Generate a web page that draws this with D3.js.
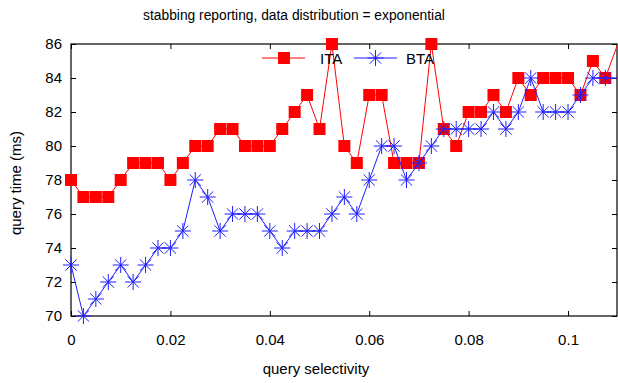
<!DOCTYPE html>
<html><head><meta charset="utf-8">
<script src="https://cdn.jsdelivr.net/npm/d3@7/dist/d3.min.js"></script>
<style>
body{margin:0;background:#fff;}
text{font-family:"Liberation Sans",Arial,sans-serif;fill:#000;}
</style></head>
<body><svg id="c" width="618" height="383"></svg>
<script>
const title = "stabbing reporting, data distribution = exponential";
const xLabel = "query selectivity";
const yLabel = "query time (ms)";
const seriesNames = ["ITA", "BTA"];
const selectivity = [0,0.0025,0.005,0.0075,0.01,0.0125,0.015,0.0175,0.02,0.0225,0.025,0.0275,0.03,0.0325,0.035,0.0375,0.04,0.0425,0.045,0.0475,0.05,0.0525,0.055,0.0575,0.06,0.0625,0.065,0.0675,0.07,0.0725,0.075,0.0775,0.08,0.0825,0.085,0.0875,0.09,0.0925,0.095,0.0975,0.1,0.1025,0.105,0.1075,0.11];
const ita = [78,77,77,77,78,79,79,79,78,79,80,80,81,81,80,80,80,81,82,83,81,86,80,79,83,83,79,79,79,86,81,80,82,82,83,82,84,83,84,84,84,83,85,84,86];
const bta = [73,70,71,72,73,72,73,74,74,75,78,77,75,76,76,76,75,74,75,75,75,76,77,76,78,80,80,78,79,80,81,81,81,81,82,81,82,84,82,82,82,83,84,84,84];
const xTicks = [0,0.02,0.04,0.06,0.08,0.1];
const xTickLabels = ["0","0.02","0.04","0.06","0.08","0.1"];
const yTicks = [70,72,74,76,78,80,82,84,86];

const svg = d3.select("#c");
const L=71, R=617, T=44, B=316;
const x = d3.scaleLinear().domain([0,0.10985]).range([L,R]);
const y = d3.scaleLinear().domain([70,86]).range([B,T]);

svg.append("defs").append("clipPath").attr("id","clip")
  .append("rect").attr("x",L).attr("y",T).attr("width",R-L).attr("height",B-T);

const fs = "15px";
const gx = svg.append("g").attr("transform",`translate(0,${B})`)
  .call(d3.axisBottom(x).tickValues(xTicks).tickFormat((d,i)=>xTickLabels[i]).tickSizeInner(-5).tickSizeOuter(0).tickPadding(18));
const gxt = svg.append("g").attr("transform",`translate(0,${T})`)
  .call(d3.axisTop(x).tickValues(xTicks).tickFormat("").tickSizeInner(-5).tickSizeOuter(0));
const gy = svg.append("g").attr("transform",`translate(${L},0)`)
  .call(d3.axisLeft(y).tickValues(yTicks).tickFormat(d3.format("d")).tickSizeInner(-5).tickSizeOuter(0).tickPadding(9));
const gyr = svg.append("g").attr("transform",`translate(${R},0)`)
  .call(d3.axisRight(y).tickValues(yTicks).tickFormat("").tickSizeInner(-5).tickSizeOuter(0));
[gx,gxt,gy,gyr].forEach(g=>{
  g.select(".domain").remove();
  g.selectAll("line").attr("stroke","#000").attr("stroke-width",1);
  g.selectAll("text").style("font-size",fs).style("font-family","'Liberation Sans',Arial,sans-serif").attr("fill","#000");
});
svg.append("rect").attr("x",L).attr("y",T).attr("width",R-L).attr("height",B-T)
  .attr("fill","none").attr("stroke","#000").attr("stroke-width",1.2);

const red="#ff0000", blue="#1f1fff";
const line = d3.line().x((d,i)=>x(selectivity[i])).y(d=>y(d));
const plot = svg.append("g");
plot.append("path").datum(ita).attr("d",line).attr("fill","none").attr("stroke",red).attr("stroke-width",1).attr("clip-path","url(#clip)");
const idx = d3.range(selectivity.length).filter(i=>selectivity[i] <= x.domain()[1]);
plot.selectAll(".sq").data(idx).enter().append("rect")
  .attr("x",i=>x(selectivity[i])-6).attr("y",i=>y(ita[i])-6).attr("width",12).attr("height",12).attr("fill",red);

plot.append("path").datum(bta).attr("d",line).attr("fill","none").attr("stroke",blue).attr("stroke-width",1).attr("clip-path","url(#clip)");
const star = (cx,cy,r)=>{
  const d = r*0.707;
  return `M${cx-r},${cy}L${cx+r},${cy}M${cx},${cy-r}L${cx},${cy+r}M${cx-d},${cy-d}L${cx+d},${cy+d}M${cx-d},${cy+d}L${cx+d},${cy-d}`;
};
plot.selectAll(".st").data(idx).enter().append("path")
  .attr("d",i=>star(x(selectivity[i]),y(bta[i]),8)).attr("stroke",blue).attr("stroke-width",1).attr("fill","none");

const lg = svg.append("g");
lg.append("line").attr("x1",262).attr("x2",305).attr("y1",58).attr("y2",58).attr("stroke",red);
lg.append("rect").attr("x",278).attr("y",52).attr("width",12).attr("height",12).attr("fill",red);
lg.append("text").attr("x",320).attr("y",64).style("font-size",fs).text(seriesNames[0]);
lg.append("line").attr("x1",354).attr("x2",397).attr("y1",58).attr("y2",58).attr("stroke",blue);
lg.append("path").attr("d",star(375.5,58,8)).attr("stroke",blue).attr("fill","none");
lg.append("text").attr("x",406).attr("y",64).style("font-size",fs).text(seriesNames[1]);

svg.append("text").attr("x",294).attr("y",20).attr("text-anchor","middle").style("font-size","13.8px").text(title);
svg.append("text").attr("x",316).attr("y",374).attr("text-anchor","middle").style("font-size",fs).text(xLabel);
svg.append("text").attr("transform","translate(21,183) rotate(-90)").attr("text-anchor","middle").style("font-size",fs).text(yLabel);
</script></body></html>
